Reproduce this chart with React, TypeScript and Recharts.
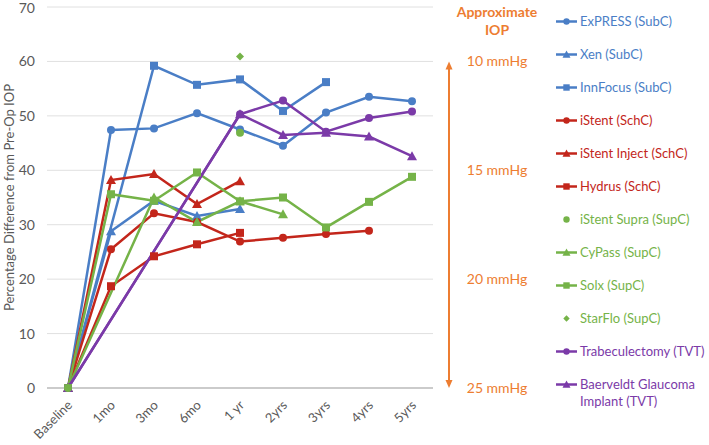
import React from "react";
import { LineChart, Line, XAxis, YAxis, CartesianGrid, Legend } from "recharts";

const CATEGORIES = ["Baseline", "1mo", "3mo", "6mo", "1 yr", "2yrs", "3yrs", "4yrs", "5yrs"];

const EXPRESS = [0, 47.4, 47.7, 50.5, 47.5, 44.5, 50.6, 53.5, 52.7];
const XEN = [0, 28.8, 34.4, 31.6, 32.9, null, null, null, null];
const INNFOCUS = [0, null, 59.2, 55.7, 56.7, 50.9, 56.2, null, null];
const ISTENT = [0, 25.5, 32.1, 30.5, 26.9, 27.6, 28.3, 28.9, null];
const ISTENT_INJECT = [0, 38.2, 39.3, 33.8, 38.0, null, null, null, null];
const HYDRUS = [0, 18.7, 24.2, 26.4, 28.5, null, null, null, null];
const ISTENT_SUPRA = [0, null, null, null, 46.9, null, null, null, null];
const CYPASS = [0, null, 35.0, 30.5, 34.3, 31.9, null, null, null];
const SOLX = [0, 35.6, 34.4, 39.6, 34.3, 35.0, 29.5, 34.2, 38.8];
const STARFLO = [0, null, null, null, 60.9, null, null, null, null];
const TRABECULECTOMY = [0, null, null, null, 50.3, 52.8, 47.1, 49.6, 50.8];
const BAERVELDT = [0, null, null, null, 50.3, 46.5, 46.9, 46.2, 42.6];

const Y_TICKS = [0, 10, 20, 30, 40, 50, 60, 70];
const Y_MAX = 70;
const IOP_TICKS = [0, 20, 40, 60];
const IOP_LABELS = ["25 mmHg", "20 mmHg", "15 mmHg", "10 mmHg"];

const BLUE = "#4A7EC6";
const RED = "#C3261B";
const GREEN = "#75B348";
const PURPLE = "#7B3AA8";
const ORANGE = "#ED7D31";
const FONT = "Lato, 'Open Sans', sans-serif";

type Shape = "circle" | "triangle" | "square" | "diamond";
type Series = { key: string; name: string; values: (number | null)[]; color: string; shape: Shape; line: boolean };

const SERIES: Series[] = [
  { key: "express", name: "ExPRESS (SubC)", values: EXPRESS, color: BLUE, shape: "circle", line: true },
  { key: "xen", name: "Xen (SubC)", values: XEN, color: BLUE, shape: "triangle", line: true },
  { key: "innfocus", name: "InnFocus (SubC)", values: INNFOCUS, color: BLUE, shape: "square", line: true },
  { key: "istent", name: "iStent (SchC)", values: ISTENT, color: RED, shape: "circle", line: true },
  { key: "inject", name: "iStent Inject (SchC)", values: ISTENT_INJECT, color: RED, shape: "triangle", line: true },
  { key: "hydrus", name: "Hydrus (SchC)", values: HYDRUS, color: RED, shape: "square", line: true },
  { key: "supra", name: "iStent Supra (SupC)", values: ISTENT_SUPRA, color: GREEN, shape: "circle", line: false },
  { key: "cypass", name: "CyPass (SupC)", values: CYPASS, color: GREEN, shape: "triangle", line: true },
  { key: "solx", name: "Solx (SupC)", values: SOLX, color: GREEN, shape: "square", line: true },
  { key: "starflo", name: "StarFlo (SupC)", values: STARFLO, color: GREEN, shape: "diamond", line: false },
  { key: "trab", name: "Trabeculectomy (TVT)", values: TRABECULECTOMY, color: PURPLE, shape: "circle", line: true },
  { key: "baerveldt", name: "Baerveldt Glaucoma Implant (TVT)", values: BAERVELDT, color: PURPLE, shape: "triangle", line: true },
];

// marker-only series drawn last so their baseline dot sits on top
const DRAW_ORDER = [...SERIES.filter((s) => s.line), ...SERIES.filter((s) => !s.line)];

const rows = CATEGORIES.map((label, i) => {
  const row: Record<string, string | number | null> = { label };
  SERIES.forEach((s) => (row[s.key] = s.values[i]));
  return row;
});

function Marker({ cx, cy, shape, color, size = 4 }: { cx: number; cy: number; shape: Shape; color: string; size?: number }) {
  if (shape === "circle") return <circle cx={cx} cy={cy} r={size} fill={color} />;
  if (shape === "square") return <rect x={cx - size} y={cy - size} width={size * 2} height={size * 2} fill={color} />;
  if (shape === "triangle") {
    const s = size * 1.25;
    return <polygon points={`${cx},${cy - s} ${cx + s},${cy + s * 0.8} ${cx - s},${cy + s * 0.8}`} fill={color} />;
  }
  return <polygon points={`${cx},${cy - size} ${cx + size},${cy} ${cx},${cy + size} ${cx - size},${cy}`} fill={color} />;
}

const makeDot = (s: Series) => (props: any) => {
  const { cx, cy, index, value } = props;
  if (value == null || cx == null || cy == null) return <g key={index} />;
  return <Marker key={index} cx={cx} cy={cy} shape={s.shape} color={s.color} />;
};

function XTick({ x, y, payload }: any) {
  return (
    <text x={x + 5} y={y + 10} transform={`rotate(-45, ${x + 5}, ${y + 10})`} textAnchor="end" fontSize={13} fill="#595959" fontFamily={FONT}>
      {payload.value}
    </text>
  );
}

// right-hand "Approximate IOP" scale, placed with the same 0..70 domain as the left axis
function IopAnnotation({ viewBox }: any) {
  const { x, y, height } = viewBox;
  const yOf = (v: number) => y + height * (1 - v / Y_MAX);
  const ax = x + 16;
  const top = yOf(Math.max(...IOP_TICKS));
  const bottom = yOf(0);
  return (
    <g fontFamily={FONT} fill={ORANGE}>
      <text x={x + 64} y={17} textAnchor="middle" fontSize={14} fontWeight="bold">
        Approximate
      </text>
      <text x={x + 64} y={35} textAnchor="middle" fontSize={14} fontWeight="bold">
        IOP
      </text>
      <line x1={ax} x2={ax} y1={top + 6} y2={bottom - 6} stroke={ORANGE} strokeWidth={2} />
      <polygon points={`${ax},${top} ${ax + 3.5},${top + 8} ${ax - 3.5},${top + 8}`} />
      <polygon points={`${ax},${bottom} ${ax + 3.5},${bottom - 8} ${ax - 3.5},${bottom - 8}`} />
      {IOP_TICKS.map((v, i) => (
        <text key={v} x={x + 64} y={yOf(v) + 5} textAnchor="middle" fontSize={14}>
          {IOP_LABELS[i]}
        </text>
      ))}
    </g>
  );
}

function YTitle({ viewBox }: any) {
  const { x, y, height } = viewBox;
  const cx = x + 9;
  const cy = y + height / 2;
  return (
    <text transform={`translate(${cx}, ${cy}) rotate(-90)`} textAnchor="middle" dominantBaseline="central" fontSize={13} fill="#595959" fontFamily={FONT}>
      Percentage Difference from Pre-Op IOP
    </text>
  );
}

function LegendBox() {
  return (
    <div style={{ fontFamily: FONT, fontSize: 13 }}>
      {SERIES.map((s) => (
        <div key={s.key} style={{ display: "flex", alignItems: "flex-start", minHeight: 33, boxSizing: "border-box", paddingTop: 8 }}>
          <svg width={24} height={17} style={{ flex: "none" }}>
            {s.line && <line x1={1} x2={22} y1={8.5} y2={8.5} stroke={s.color} strokeWidth={2.5} />}
            <Marker cx={11.5} cy={8.5} shape={s.shape} color={s.color} size={3.2} />
          </svg>
          <span style={{ color: s.color, lineHeight: "17px", marginLeft: 1, width: 126 }}>{s.name}</span>
        </div>
      ))}
    </div>
  );
}

export default function App() {
  return (
    <div style={{ width: 709, height: 445, background: "#fff" }}>
      <style>{"body{margin:0}"}</style>
      <LineChart width={709} height={445} data={rows} margin={{ top: 7, right: 166, bottom: 0, left: 0 }}>
        <CartesianGrid yAxisId="pct" vertical={false} stroke="#E0E0E0" strokeWidth={1} />
        <XAxis
          dataKey="label"
          interval={0}
          height={57}
          padding={{ left: 21, right: 21 }}
          tickLine={false}
          axisLine={{ stroke: "#BFBFBF", strokeWidth: 1.5 }}
          tick={<XTick />}
        />
        <YAxis
          yAxisId="pct"
          domain={[0, Y_MAX]}
          ticks={Y_TICKS}
          width={47}
          axisLine={false}
          tickLine={false}
          tickSize={0}
          tickMargin={12}
          tick={{ fill: "#595959", fontSize: 14, fontFamily: FONT }}
          label={<YTitle />}
        />
        <YAxis
          yAxisId="iop"
          orientation="right"
          domain={[0, Y_MAX]}
          width={110}
          axisLine={false}
          tickLine={false}
          tick={false}
          label={<IopAnnotation />}
        />
        <Legend
          layout="vertical"
          align="center"
          verticalAlign="middle"
          wrapperStyle={{ left: 555, top: 5, width: 154 }}
          content={() => <LegendBox />}
        />
        {DRAW_ORDER.map((s) => (
          <Line
            key={s.key}
            yAxisId="pct"
            dataKey={s.key}
            name={s.name}
            type="linear"
            stroke={s.line ? s.color : "none"}
            strokeWidth={2.5}
            connectNulls
            dot={makeDot(s)}
            activeDot={false}
            isAnimationActive={false}
          />
        ))}
      </LineChart>
    </div>
  );
}
